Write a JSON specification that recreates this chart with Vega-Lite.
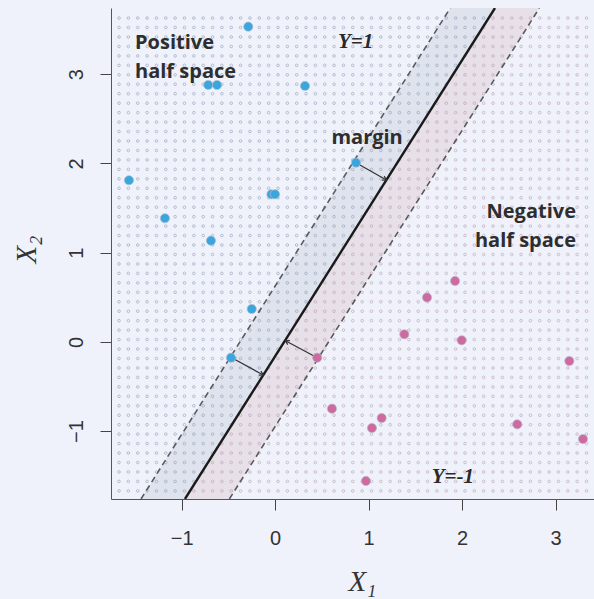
{
  "$schema": "https://vega.github.io/schema/vega-lite/v6.json",
  "width": 483,
  "height": 491,
  "autosize": {"type": "none"},
  "padding": {"left": 111, "top": 8, "right": 0, "bottom": 100},
  "background": "#eff2fb",
  "config": {
    "view": {"stroke": null},
    "axis": {
      "domainColor": "#555555",
      "domainWidth": 1,
      "tickColor": "#444444",
      "tickSize": 11,
      "tickWidth": 1,
      "grid": false,
      "labelFont": "Liberation Sans",
      "labelFontSize": 20,
      "labelColor": "#333333",
      "titleFont": "Liberation Serif",
      "titleFontStyle": "italic",
      "titleFontWeight": "normal",
      "titleFontSize": 29,
      "titleColor": "#333333"
    }
  },
  "layer": [
    {
      "data": {"values": [
        {"by": -1.761, "xl": -1.435, "xs": -0.965, "xr": -0.49},
        {"by": 3.743, "xl": 1.873, "xs": 2.351, "xr": 2.826}
      ]},
      "layer": [
        {
          "mark": {"type": "area", "orient": "horizontal", "color": "#dfe3ee", "opacity": 1},
          "encoding": {
            "y": {"field": "by", "type": "quantitative",
              "scale": {"domain": [-1.761, 3.743], "nice": false, "zero": false},
              "axis": {"values": [-1, 0, 1, 2, 3], "format": "d", "title": "X₂", "labelAngle": -90, "labelAlign": "center",
                "labelBaseline": "alphabetic", "labelPadding": 18,
                "titleAngle": -90, "titleX": -76, "titleY": 241, "titleAlign": "center", "titleBaseline": "alphabetic"}},
            "x": {"field": "xl", "type": "quantitative",
              "scale": {"domain": [-1.756, 3.41], "nice": false, "zero": false},
              "axis": {"values": [-1, 0, 1, 2, 3], "format": "d", "title": "X₁", "labelPadding": 18,
                "titleX": 251, "titleY": 91, "titleAlign": "center", "titleBaseline": "alphabetic"}},
            "x2": {"field": "xs"}
          }
        },
        {
          "mark": {"type": "area", "orient": "horizontal", "color": "#e8e0e9", "opacity": 1},
          "encoding": {
            "y": {"field": "by", "type": "quantitative"},
            "x": {"field": "xs", "type": "quantitative"},
            "x2": {"field": "xr"}
          }
        }
      ]
    },
    {
      "data": {"values": [{
        "gx": [-1.67,-1.57,-1.47,-1.37,-1.27,-1.17,-1.07,-0.97,-0.87,-0.77,-0.67,-0.57,-0.47,-0.37,-0.27,-0.17,-0.07,0.03,0.13,0.23,0.33,0.43,0.53,0.63,0.73,0.83,0.93,1.03,1.13,1.23,1.33,1.43,1.53,1.63,1.73,1.83,1.93,2.03,2.13,2.23,2.33,2.43,2.53,2.63,2.73,2.83,2.93,3.03,3.13,3.23,3.33],
        "gy": [3.63,3.524,3.418,3.312,3.206,3.1,2.994,2.888,2.782,2.676,2.57,2.464,2.358,2.252,2.146,2.04,1.934,1.828,1.722,1.616,1.51,1.404,1.298,1.192,1.086,0.98,0.874,0.768,0.662,0.556,0.45,0.344,0.238,0.132,0.026,-0.08,-0.186,-0.292,-0.398,-0.504,-0.61,-0.716,-0.822,-0.928,-1.034,-1.14,-1.246,-1.352,-1.458,-1.564,-1.67]
      }]},
      "transform": [{"flatten": ["gx"]}, {"flatten": ["gy"]}],
      "mark": {"type": "point", "shape": "circle", "filled": false, "size": 7, "strokeWidth": 0.8, "opacity": 0.75},
      "encoding": {
        "x": {"field": "gx", "type": "quantitative"},
        "y": {"field": "gy", "type": "quantitative"},
        "color": {
          "condition": {"test": "datum.gx < -0.965 + (datum.gy + 1.761) * 0.6025", "value": "#8d9bb5"},
          "value": "#b89aae"
        }
      }
    },
    {
      "data": {"values": [
        {"by": -1.761, "xl": -1.435, "xs": -0.965, "xr": -0.49},
        {"by": 3.743, "xl": 1.873, "xs": 2.351, "xr": 2.826}
      ]},
      "layer": [
        {
          "mark": {"type": "line", "color": "#5a5a5a", "strokeWidth": 1.6, "strokeDash": [6, 4], "clip": true},
          "encoding": {
            "y": {"field": "by", "type": "quantitative"},
            "x": {"field": "xl", "type": "quantitative"},
            "order": {"field": "by"}
          }
        },
        {
          "mark": {"type": "line", "color": "#5a5a5a", "strokeWidth": 1.6, "strokeDash": [6, 4], "clip": true},
          "encoding": {
            "y": {"field": "by", "type": "quantitative"},
            "x": {"field": "xr", "type": "quantitative"},
            "order": {"field": "by"}
          }
        },
        {
          "mark": {"type": "line", "color": "#1a1a1a", "strokeWidth": 2.4, "clip": true},
          "encoding": {
            "y": {"field": "by", "type": "quantitative"},
            "x": {"field": "xs", "type": "quantitative"},
            "order": {"field": "by"}
          }
        }
      ]
    },
    {
      "data": {"values": [
        {"ax": 0.864, "ay": 2.009, "bx": 1.19, "by": 1.815},
        {"ax": -0.465, "ay": -0.177, "bx": -0.128, "by": -0.371},
        {"ax": 0.11, "ay": 0.013, "bx": 0.45, "by": -0.177}
      ]},
      "layer": [
        {
          "mark": {"type": "rule", "color": "#333333", "strokeWidth": 1.2},
          "encoding": {
            "x": {"field": "ax", "type": "quantitative"},
            "y": {"field": "ay", "type": "quantitative"},
            "x2": {"field": "bx"},
            "y2": {"field": "by"}
          }
        },
        {
          "mark": {"type": "point", "shape": "M-1,-0.6L0,0L-1,0.6", "filled": false, "size": 60, "strokeWidth": 1.2, "color": "#333333", "angle": 29, "opacity": 1},
          "encoding": {
            "x": {"field": "bx", "type": "quantitative"},
            "y": {"field": "by", "type": "quantitative"}
          }
        },
        {
          "mark": {"type": "point", "shape": "M-1,-0.6L0,0L-1,0.6", "filled": false, "size": 60, "strokeWidth": 1.2, "color": "#333333", "angle": 209, "opacity": 1},
          "encoding": {
            "x": {"field": "ax", "type": "quantitative"},
            "y": {"field": "ay", "type": "quantitative"}
          }
        }
      ]
    },
    {
      "data": {"values": [
        {"x": -0.288, "y": 3.534, "cls": "pos"},
        {"x": -0.716, "y": 2.88, "cls": "pos"},
        {"x": -0.622, "y": 2.88, "cls": "pos"},
        {"x": -1.564, "y": 1.812, "cls": "pos"},
        {"x": -1.179, "y": 1.386, "cls": "pos"},
        {"x": -0.687, "y": 1.135, "cls": "pos"},
        {"x": -0.04, "y": 1.655, "cls": "pos"},
        {"x": -0.002, "y": 1.655, "cls": "pos"},
        {"x": 0.319, "y": 2.869, "cls": "pos"},
        {"x": 0.864, "y": 2.009, "cls": "pos"},
        {"x": -0.251, "y": 0.369, "cls": "pos"},
        {"x": -0.473, "y": -0.177, "cls": "pos"},
        {"x": 1.924, "y": 0.683, "cls": "neg"},
        {"x": 1.624, "y": 0.498, "cls": "neg"},
        {"x": 1.381, "y": 0.085, "cls": "neg"},
        {"x": 1.995, "y": 0.018, "cls": "neg"},
        {"x": 0.45, "y": -0.177, "cls": "neg"},
        {"x": 3.146, "y": -0.214, "cls": "neg"},
        {"x": 0.607, "y": -0.749, "cls": "neg"},
        {"x": 1.139, "y": -0.853, "cls": "neg"},
        {"x": 1.035, "y": -0.965, "cls": "neg"},
        {"x": 2.589, "y": -0.924, "cls": "neg"},
        {"x": 3.292, "y": -1.089, "cls": "neg"},
        {"x": 0.971, "y": -1.559, "cls": "neg"}
      ]},
      "mark": {"type": "point", "shape": "circle", "filled": true, "size": 85, "opacity": 1, "stroke": "#b4bccc", "strokeWidth": 1, "strokeOpacity": 0.7},
      "encoding": {
        "x": {"field": "x", "type": "quantitative"},
        "y": {"field": "y", "type": "quantitative"},
        "fill": {"field": "cls", "type": "nominal", "scale": {"domain": ["pos", "neg"], "range": ["#3aa6de", "#cf6aa0"]}, "legend": null}
      }
    },
    {
      "data": {"values": [
        {"x": -1.499, "y": 3.284, "label": "Positive"},
        {"x": -1.499, "y": 2.959, "label": "half space"}
      ]},
      "mark": {"type": "text", "align": "left", "baseline": "alphabetic", "font": "Open Sans", "fontWeight": "bold", "fontSize": 20, "color": "#2e2e2e"},
      "encoding": {
        "x": {"field": "x", "type": "quantitative"},
        "y": {"field": "y", "type": "quantitative"},
        "text": {"field": "label"}
      }
    },
    {
      "data": {"values": [
        {"x": 0.983, "y": 2.217, "label": "margin"}
      ]},
      "mark": {"type": "text", "align": "center", "baseline": "alphabetic", "font": "Open Sans", "fontWeight": "bold", "fontSize": 20, "color": "#2e2e2e"},
      "encoding": {
        "x": {"field": "x", "type": "quantitative"},
        "y": {"field": "y", "type": "quantitative"},
        "text": {"field": "label"}
      }
    },
    {
      "data": {"values": [
        {"x": 3.217, "y": 1.389, "label": "Negative"},
        {"x": 3.217, "y": 1.064, "label": "half space"}
      ]},
      "mark": {"type": "text", "align": "right", "baseline": "alphabetic", "font": "Open Sans", "fontWeight": "bold", "fontSize": 20, "color": "#2e2e2e"},
      "encoding": {
        "x": {"field": "x", "type": "quantitative"},
        "y": {"field": "y", "type": "quantitative"},
        "text": {"field": "label"}
      }
    },
    {
      "data": {"values": [
        {"x": 0.672, "y": 3.294, "label": "Y=1"},
        {"x": 1.674, "y": -1.582, "label": "Y=-1"}
      ]},
      "mark": {"type": "text", "align": "left", "baseline": "alphabetic", "font": "Liberation Serif", "fontWeight": "bold", "fontStyle": "italic", "fontSize": 21, "color": "#2a2a2a"},
      "encoding": {
        "x": {"field": "x", "type": "quantitative"},
        "y": {"field": "y", "type": "quantitative"},
        "text": {"field": "label"}
      }
    },
    {
      "mark": {"type": "rule", "color": "#555555", "strokeWidth": 1},
      "encoding": {
        "y": {"datum": 3.743, "type": "quantitative"}
      }
    }
  ]
}
